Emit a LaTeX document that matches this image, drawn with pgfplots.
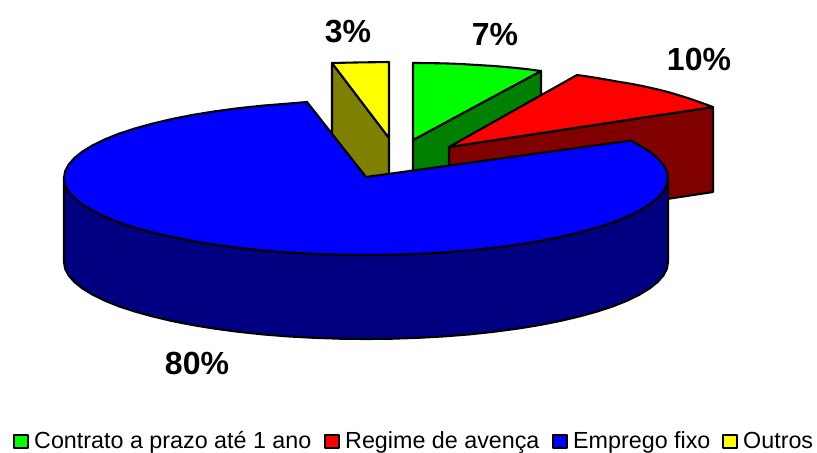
\documentclass[border=0pt]{standalone}
\usepackage{pgfplots}
\pgfplotsset{compat=1.18}
\usepackage{fontspec}
\setmainfont{Liberation Sans}
\begin{document}
\begin{tikzpicture}
\begin{axis}[
  hide axis, scale only axis, width=817pt, height=452pt,
  xmin=0, xmax=817, ymin=0, ymax=452, y dir=reverse, clip=false,
  every axis plot/.append style={draw=black, line width=2.1pt, line join=round, mark=none}
]
\path (axis cs:0,0) rectangle (axis cs:817,452);
% Outros (3%)
\addplot[fill={rgb,255:red,128;green,128;blue,0}] coordinates {(332,63)(389,138)(389,222)(332,147)} --cycle;
\addplot[fill={rgb,255:red,255;green,255;blue,0}] coordinates {(389,138)(332,63)(345,62.7)(360,62.4)(375,62.2)(389,62)} --cycle;
% Contrato (7%)
\addplot[fill={rgb,255:red,0;green,128;blue,0}] coordinates {(413,140)(541,71)(541,155)(413,224)} --cycle;
\addplot[fill={rgb,255:red,0;green,255;blue,0}] coordinates {(413,140)(413,63)(429,63.1)(445,63.4)(461,64)(477,65)(494,66)(510,67.4)(526,69)(541,71)} --cycle;
% Regime (10%)
\addplot[fill={rgb,255:red,128;green,0;blue,0}] coordinates {(449,147)(713,107)(713,192)(449,232)} --cycle;
\addplot[fill={rgb,255:red,255;green,0;blue,0}] coordinates {(449,147)(577,75)(587,76.4)(597,78)(607,79.7)(617,81.5)(628,83.3)(640,85.5)(650,87.7)(660,90)(670,92.6)(680,95.6)(690,98.8)(702,103)(713,107)} --cycle;
% Emprego fixo (80%)
\addplot[fill={rgb,255:red,0;green,0;blue,128}] coordinates {(668,178)(666.9,184.7)(663.4,191.4)(657.7,197.9)(649.8,204.3)(639.7,210.5)(627.5,216.5)(613.4,222.2)(597.3,227.5)(579.5,232.4)(560.1,237)(539.2,241.1)(517,244.7)(493.6,247.8)(469.3,250.4)(444.2,252.4)(418.4,253.8)(392.3,254.7)(366,255)(339.7,254.7)(313.6,253.8)(287.8,252.4)(262.7,250.4)(238.4,247.8)(215,244.7)(192.8,241.1)(171.9,237)(152.5,232.4)(134.7,227.5)(118.6,222.2)(104.5,216.5)(92.3,210.5)(82.2,204.3)(74.3,197.9)(68.6,191.4)(65.1,184.7)(64,178)
(64,262)(65.1,268.7)(68.6,275.4)(74.3,281.9)(82.2,288.3)(92.3,294.5)(104.5,300.5)(118.6,306.2)(134.7,311.5)(152.5,316.4)(171.9,321)(192.8,325.1)(215,328.7)(238.4,331.8)(262.7,334.4)(287.8,336.4)(313.6,337.8)(339.7,338.7)(366,339)(392.3,338.7)(418.4,337.8)(444.2,336.4)(469.3,334.4)(493.6,331.8)(517,328.7)(539.2,325.1)(560.1,321)(579.5,316.4)(597.3,311.5)(613.4,306.2)(627.5,300.5)(639.7,294.5)(649.8,288.3)(657.7,281.9)(663.4,275.4)(666.9,268.7)(668,262)} --cycle;
\addplot[fill={rgb,255:red,0;green,0;blue,255}] coordinates {(366,177)(631,140.5)(639.7,145.5)(649.8,151.7)(657.7,158.1)(663.4,164.6)(666.9,171.3)(668,178)(666.9,184.7)(663.4,191.4)(657.7,197.9)(649.8,204.3)(639.7,210.5)(627.5,216.5)(613.4,222.2)(597.3,227.5)(579.5,232.4)(560.1,237)(539.2,241.1)(517,244.7)(493.6,247.8)(469.3,250.4)(444.2,252.4)(418.4,253.8)(392.3,254.7)(366,255)(339.7,254.7)(313.6,253.8)(287.8,252.4)(262.7,250.4)(238.4,247.8)(215,244.7)(192.8,241.1)(171.9,237)(152.5,232.4)(134.7,227.5)(118.6,222.2)(104.5,216.5)(92.3,210.5)(82.2,204.3)(74.3,197.9)(68.6,191.4)(65.1,184.7)(64,178)(65.1,171.3)(68.6,164.6)(74.3,158.1)(82.2,151.7)(92.3,145.5)(104.5,139.5)(118.6,133.8)(134.7,128.5)(152.5,123.6)(171.9,119)(192.8,114.9)(215,111.3)(238.4,108.2)(262.7,105.6)(287.8,103.6)(307,102)} --cycle;
% Legend keys
\addplot[fill={rgb,255:red,0;green,255;blue,0}] coordinates {(14,435)(28,435)(28,448)(14,448)} --cycle;
\addplot[fill={rgb,255:red,255;green,0;blue,0}] coordinates {(325,435)(339,435)(339,448)(325,448)} --cycle;
\addplot[fill={rgb,255:red,0;green,0;blue,255}] coordinates {(553,435)(567,435)(567,448)(553,448)} --cycle;
\addplot[fill={rgb,255:red,255;green,255;blue,0}] coordinates {(723,435)(737,435)(737,448)(723,448)} --cycle;
% Labels
\node[font=\fontsize{32}{32}\selectfont\bfseries] at (axis cs:348,32) {3\%};
\node[font=\fontsize{32}{32}\selectfont\bfseries] at (axis cs:495,34) {7\%};
\node[font=\fontsize{32}{32}\selectfont\bfseries] at (axis cs:699,59) {10\%};
\node[font=\fontsize{32}{32}\selectfont\bfseries] at (axis cs:197,363) {80\%};
\node[anchor=base west,inner sep=0pt,font=\fontsize{23.3}{23.3}\selectfont] at (axis cs:34,448) {Contrato a prazo até 1 ano};
\node[anchor=base west,inner sep=0pt,font=\fontsize{23.3}{23.3}\selectfont] at (axis cs:345,448) {Regime de avença};
\node[anchor=base west,inner sep=0pt,font=\fontsize{23.3}{23.3}\selectfont] at (axis cs:573,448) {Emprego fixo};
\node[anchor=base west,inner sep=0pt,font=\fontsize{23.3}{23.3}\selectfont] at (axis cs:743,448) {Outros};
\end{axis}
\end{tikzpicture}
\end{document}
